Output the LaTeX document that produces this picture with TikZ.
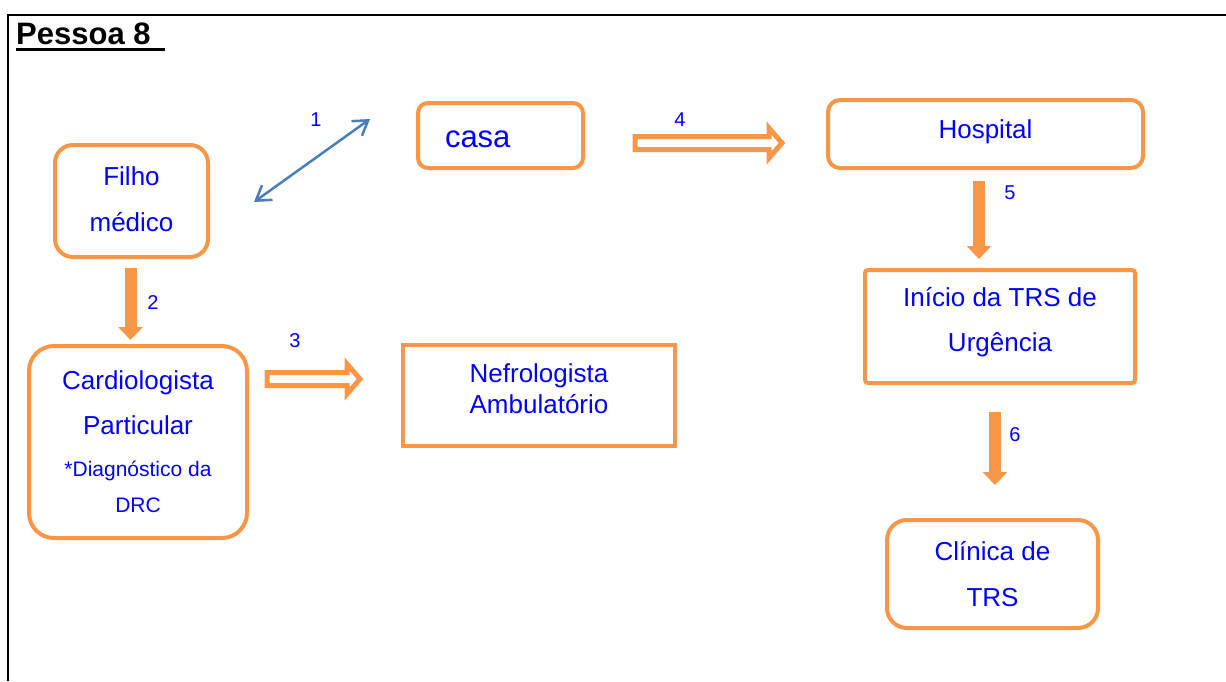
\documentclass[tikz,border=0pt]{standalone}
\usepackage{fontspec}
\setmainfont{Liberation Sans}
\usetikzlibrary{arrows.meta,calc}
\definecolor{boxorange}{HTML}{F79646}
\definecolor{labelblue}{HTML}{0000FF}
\definecolor{linkblue}{HTML}{4A7EBB}
\begin{document}
\begin{tikzpicture}[x=1pt,y=-1pt,
  box/.style={draw=boxorange, line width=4pt, fill=white, text=labelblue,
    align=center, inner sep=0pt, font=\fontsize{26}{46}\selectfont},
  num/.style={text=labelblue, inner sep=0pt, font=\fontsize{20}{20}\selectfont},
  solidarrow/.style={draw=boxorange, line width=12pt,
    -{Triangle[length=13pt,width=24pt]}},
  hollowarrow/.style={draw=boxorange, line width=5pt, fill=white, line join=miter,
    to path={let \p1=(\tikztostart), \p2=(\tikztotarget) in
      (\x1,\y1+6.5pt) -- (\x2-13pt,\y1+6.5pt) -- (\x2-13pt,\y1+15pt) -- (\x2,\y1)
      -- (\x2-13pt,\y1-15pt) -- (\x2-13pt,\y1-6.5pt) -- (\x1,\y1-6.5pt) -- cycle}},
  link/.style={draw=linkblue, line width=2.5pt,
    {Straight Barb[length=14pt,width=18pt]}-{Straight Barb[length=14pt,width=18pt]}}
]
\useasboundingbox (0,0) rectangle (1226,681);

% page frame
\draw[line width=2.2pt] (8,681) -- (8,15) -- (1226,15);

% heading
\node[inner sep=0pt, anchor=base west, font=\fontsize{31}{31}\selectfont\bfseries] (title) at (16,44) {Pessoa 8};
\draw[line width=3.5pt] ($(title.base west)+(0,5.5)$) -- ($(title.base west)+(149,5.5)$);

% boxes
\node[box, rounded corners=18pt, minimum width=153pt, minimum height=112pt, text depth=4pt]
  (filho) at (131.5,201) {Filho\\médico};
\node[box, rounded corners=10pt, minimum width=165pt, minimum height=65pt,
  inner xsep=27pt, text width=111pt, align=left, font=\fontsize{31}{31}\selectfont,
  text height=23.5pt, text depth=0pt]
  (casa) at (500.5,135.5) {casa};
\node[box, rounded corners=12pt, minimum width=315pt, minimum height=68pt, text depth=9.5pt]
  (hospital) at (985.5,134) {Hospital};
\node[box, rounded corners=3pt, minimum width=270pt, minimum height=113pt,
  font=\fontsize{26}{45}\selectfont, text depth=13.5pt]
  (inicio) at (1000,326.5) {Início da TRS de\\Urgência};
\node[box, minimum width=272pt, minimum height=101pt,
  font=\fontsize{26}{31}\selectfont, text depth=14.6pt]
  (nefro) at (539,395.5) {Nefrologista\\Ambulatório};
\node[box, rounded corners=25pt, minimum width=218pt, minimum height=192pt,
  font=\fontsize{26}{45}\selectfont]
  (cardio) at (138,442) {Cardiologista\\Particular\\[-3.3pt]
  {\fontsize{21}{21}\selectfont *Diagnóstico da}\\[-8.4pt]
  {\fontsize{21}{21}\selectfont DRC}};
\node[box, rounded corners=20pt, minimum width=211pt, minimum height=108pt]
  (clinica) at (992.5,574) {Clínica de\\TRS};

% connectors
\draw[link] ($(filho.east)+(44,1)$) -- ($(casa.west)+(-46,-16.5)$);

\coordinate (a2s) at ($(filho.south)+(-1,9)$);
\coordinate (a2e) at (a2s |- cardio.north);
\draw[solidarrow] (a2s) -- ($(a2e)+(0,-4)$);

\coordinate (a3s) at ($(cardio.north east)+(18,35)$);
\coordinate (a3e) at ($(nefro.north west)+(-41,36)$);
\draw[hollowarrow] (a3s) to (a3e);

\coordinate (a4s) at ($(casa.east)+(50,7.5)$);
\coordinate (a4e) at ($(hospital.west)+(-44,9)$);
\draw[hollowarrow] (a4s) to (a4e);

\coordinate (a5s) at ($(hospital.south)+(-6.5,11)$);
\coordinate (a5e) at (a5s |- inicio.north);
\draw[solidarrow] (a5s) -- ($(a5e)+(0,-9)$);

\coordinate (a6s) at ($(inicio.south)+(-5,27)$);
\coordinate (a6e) at (a6s |- clinica.north);
\draw[solidarrow] (a6s) -- ($(a6e)+(0,-33)$);

% step numbers
\node[num] (n1) at (316,120) {1};
\node[num] (n2) at (153,303) {2};
\node[num] (n3) at (295,341) {3};
\node[num] (n4) at (680,120) {4};
\node[num] (n5) at (1010,193) {5};
\node[num] (n6) at (1015,435) {6};
\end{tikzpicture}
\end{document}
